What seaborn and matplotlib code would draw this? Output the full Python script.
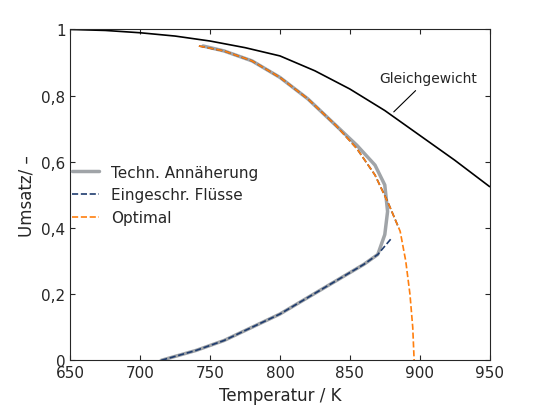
import matplotlib
matplotlib.use("Agg")
import matplotlib.pyplot as plt
import seaborn as sns

sns.set_style("ticks")
plt.rcParams['font.family'] = ['DejaVu Sans']

eq_T = [650, 675, 700, 725, 750, 775, 800, 825, 850, 875, 900, 925, 950]
eq_X = [1.0, 0.997, 0.99, 0.98, 0.965, 0.945, 0.92, 0.875, 0.82, 0.755, 0.68, 0.605, 0.525]

tech_T = [715, 740, 760, 780, 800, 820, 840, 860, 870, 875, 877, 875, 868, 855, 840, 820, 800, 780, 760, 745]
tech_X = [0.0, 0.03, 0.06, 0.10, 0.14, 0.19, 0.24, 0.29, 0.32, 0.38, 0.45, 0.53, 0.59, 0.65, 0.71, 0.79, 0.855, 0.905, 0.935, 0.95]

blue_T = [715, 740, 760, 780, 800, 820, 840, 860, 870, 880]
blue_X = [0.0, 0.03, 0.06, 0.10, 0.14, 0.19, 0.24, 0.29, 0.32, 0.37]
blue2_T = [742, 760, 780, 800, 820, 840, 855, 868, 877, 885]
blue2_X = [0.95, 0.935, 0.905, 0.855, 0.79, 0.71, 0.64, 0.56, 0.48, 0.40]

opt_T = [742, 760, 780, 800, 820, 840, 855, 868, 878, 886, 890, 893, 895, 896]
opt_X = [0.95, 0.935, 0.905, 0.855, 0.79, 0.71, 0.64, 0.56, 0.47, 0.39, 0.30, 0.20, 0.10, 0.0]

fig, ax = plt.subplots(figsize=(5.41, 4.06), dpi=100)
kw = dict(ax=ax, sort=False, estimator=None)
sns.lineplot(x=eq_T, y=eq_X, color='black', lw=1.2, **kw)
sns.lineplot(x=tech_T, y=tech_X, color='#a0a4a8', lw=2.5, label='Techn. Annäherung', **kw)
sns.lineplot(x=blue_T, y=blue_X, color='#1f3c6e', lw=1.2, ls='--', label='Eingeschr. Flüsse', **kw)
sns.lineplot(x=blue2_T, y=blue2_X, color='#1f3c6e', lw=1.2, ls='--', **kw)
sns.lineplot(x=opt_T, y=opt_X, color='#ff7f0e', lw=1.2, ls='--', label='Optimal', **kw)

ax.annotate('Gleichgewicht', xy=(880, 0.745), xytext=(871, 0.84), fontsize=10,
            arrowprops=dict(arrowstyle='-', color='black', lw=0.8))
ax.set_xlim(650, 950)
ax.set_ylim(0, 1)
ax.set_xticks([650, 700, 750, 800, 850, 900, 950])
ax.set_yticks([0, 0.2, 0.4, 0.6, 0.8, 1])
ax.set_yticklabels(['0', '0,2', '0,4', '0,6', '0,8', '1'])
ax.tick_params(direction='in', labelsize=11, top=True, right=True)
ax.set_xlabel('Temperatur / K', fontsize=12)
ax.set_ylabel('Umsatz/ –', fontsize=12)
ax.legend(loc='center left', bbox_to_anchor=(-0.03, 0.5), frameon=False, fontsize=11, handlelength=1.8)
fig.subplots_adjust(left=0.13, right=0.905, top=0.925, bottom=0.11)
fig.savefig('out.png', dpi=100)
